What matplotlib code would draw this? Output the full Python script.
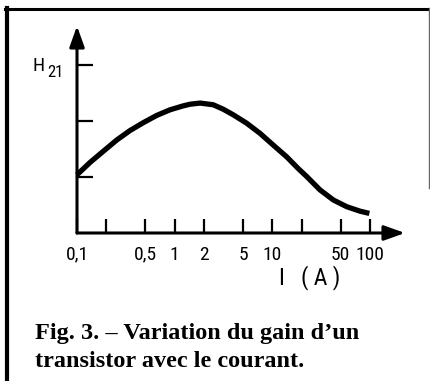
import matplotlib
matplotlib.use("Agg")
import matplotlib.pyplot as plt
from matplotlib import font_manager
from matplotlib.font_manager import FontProperties
from matplotlib.lines import Line2D
from matplotlib.ticker import FixedLocator, NullFormatter

# current (A) and gain H21
current = [0.1, 0.136, 0.186, 0.255, 0.349, 0.477, 0.655, 0.896, 1.22, 1.44,
           1.82, 2.48, 3.14, 3.98, 5.46, 7.46, 10.2, 14.0, 18.4, 22.4, 30.7,
           42.0, 57.6, 78.8, 98.2]
gain = [1.04, 1.26, 1.46, 1.66, 1.83, 1.97, 2.10, 2.20, 2.27, 2.30,
        2.32, 2.29, 2.21, 2.11, 1.96, 1.78, 1.57, 1.36, 1.15, 1.01, 0.77,
        0.59, 0.47, 0.39, 0.35]

major_ticks = [0.1, 0.5, 1, 2, 5, 10, 50, 100]
major_labels = ["0,1", "0,5", "1", "2", "5", "10", "50", "100"]
minor_ticks = [0.2, 20]
gain_ticks = [1, 2, 3]

W, H = 430, 381


def condensed_sans():
    # look for a narrow sans face; plain Liberation Sans otherwise
    entries = font_manager.fontManager.ttflist
    for want in ("Liberation Sans Narrow", "Roboto Condensed", "DejaVu Sans"):
        for f in entries:
            if f.name != want or f.style != "normal":
                continue
            if f.weight not in (400, "normal", "regular", "book"):
                continue
            narrow = "Narrow" in f.name or "Condensed" in f.name \
                or "condensed" in str(f.stretch) or "Condensed" in f.fname
            if narrow:
                return FontProperties(fname=f.fname), True
    return FontProperties(family="Liberation Sans"), False


def fx(x):
    return x / W


def fy(y):
    return 1 - y / H


sans, is_narrow = condensed_sans()
tick_size = 14 if is_narrow else 12

fig = plt.figure(figsize=(W / 100, H / 100), dpi=100)

# axes: origin at (77, 233) px, arrow tips at x=405 and y=26
ax = fig.add_axes([fx(77), fy(233), (405 - 77) / W, (233 - 26) / H])
ax.set_xscale("log")
ax.set_xlim(0.1, 10 ** ((405 - 77) / 97.7 - 1))
ax.set_ylim(0, (233 - 26) / 56)
ax.patch.set_alpha(0)
for s in ax.spines.values():
    s.set_visible(False)

ax.plot(current, gain, color="black", lw=3.8, solid_capstyle="butt",
        solid_joinstyle="round", clip_on=False)

arrow = dict(arrowstyle="-|>,head_length=0.7,head_width=0.25", lw=2.2,
             color="black", mutation_scale=18, shrinkA=0, shrinkB=0)
ax.annotate("", xy=(1, 0), xytext=(0, 0), xycoords="axes fraction",
            arrowprops=arrow)
ax.annotate("", xy=(0, 1), xytext=(0, 0), xycoords="axes fraction",
            arrowprops=arrow)

ax.set_xticks(major_ticks)
ax.set_xticklabels(major_labels)
for lab in ax.get_xticklabels():
    lab.set_fontproperties(sans)
    lab.set_fontsize(tick_size)
ax.xaxis.set_minor_locator(FixedLocator(minor_ticks))
ax.xaxis.set_minor_formatter(NullFormatter())
ax.tick_params(axis="x", which="both", direction="in", length=10, width=1.6,
               pad=9, top=False)
ax.set_yticks(gain_ticks)
ax.set_yticklabels([])
ax.tick_params(axis="y", direction="in", length=11.5, width=1.6, right=False)

# axis labels
fig.text(fx(33), fy(71), "H", fontproperties=sans, fontsize=tick_size,
         va="baseline")
fig.text(fx(47), fy(77), "21", fontproperties=sans, fontsize=tick_size - 2,
         va="baseline", fontweight="bold")
fig.text(fx(310), fy(278), "I   ( A )", fontproperties=sans,
         fontsize=tick_size + 3, ha="center", va="center")

# caption
fig.text(fx(35), fy(339), "Fig. 3. \u2013 Variation du gain d\u2019un",
         fontfamily="Liberation Serif", fontweight="bold", fontsize=17.5,
         va="baseline")
fig.text(fx(35), fy(367), "transistor avec le courant.",
         fontfamily="Liberation Serif", fontweight="bold", fontsize=17.5,
         va="baseline")

# page frame
fig.add_artist(Line2D([fx(5), fx(430)], [fy(8.5), fy(8.5)], color="black", lw=2.2))
fig.add_artist(Line2D([fx(7), fx(7)], [fy(8), fy(381)], color="black", lw=3))
fig.add_artist(Line2D([fx(429), fx(429)], [fy(8), fy(188)], color="#666666", lw=1))

fig.savefig("out.png", dpi=100)
